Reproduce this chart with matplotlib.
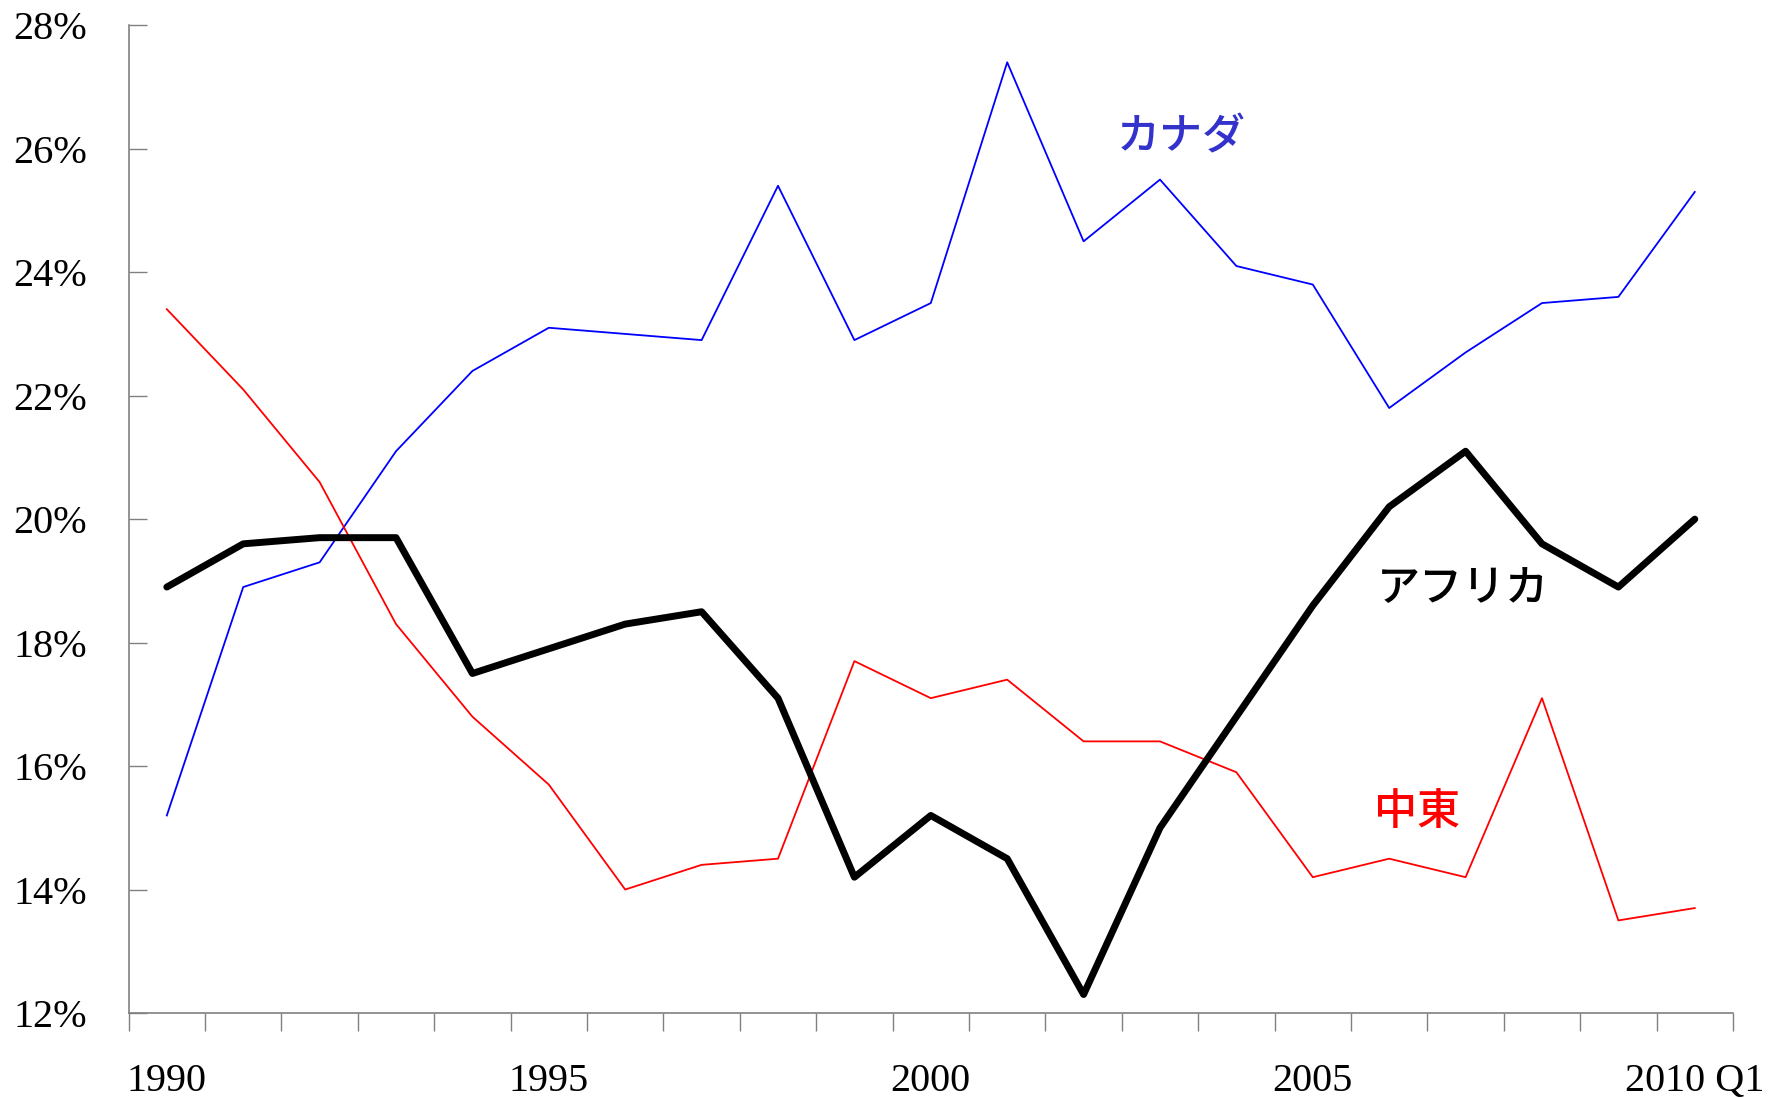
import matplotlib
matplotlib.use("Agg")
import matplotlib.pyplot as plt
import numpy as np

years = [str(y) for y in range(1990, 2010)] + ["2010 Q1"]
tick_labels = ["1990", "1995", "2000", "2005", "2010 Q1"]
tick_positions = [0, 5, 10, 15, 20]

canada = [15.2, 18.9, 19.3, 21.1, 22.4, 23.1, 23.0, 22.9, 25.4, 22.9, 23.5,
          27.4, 24.5, 25.5, 24.1, 23.8, 21.8, 22.7, 23.5, 23.6, 25.3]
mideast = [23.4, 22.1, 20.6, 18.3, 16.8, 15.7, 14.0, 14.4, 14.5, 17.7, 17.1,
           17.4, 16.4, 16.4, 15.9, 14.2, 14.5, 14.2, 17.1, 13.5, 13.7]
africa = [18.9, 19.6, 19.7, 19.7, 17.5, 17.9, 18.3, 18.5, 17.1, 14.2, 15.2,
          14.5, 12.3, 15.0, 16.8, 18.6, 20.2, 21.1, 19.6, 18.9, 20.0]

fig = plt.figure(figsize=(17.84, 10.98), dpi=100)
ax = fig.add_axes([0.0721, 0.0774, 0.8993, 0.8996])

x = np.arange(len(years))
ax.plot(x, canada, color="#0000FF", lw=1.3)
ax.plot(x, mideast, color="#FF0000", lw=1.3)
ax.plot(x, africa, color="black", lw=5, solid_capstyle="round", solid_joinstyle="round")

ax.set_xlim(-0.5, len(years) - 0.5)
ax.set_ylim(12, 28)
ax.set_yticks(np.arange(12, 29, 2))
ax.set_yticklabels([f"{v}%" for v in range(12, 29, 2)], fontfamily="Liberation Serif", fontsize=29)

ax.set_xticks(np.arange(-0.5, len(years)), minor=False)
ax.set_xticklabels([])
ax.set_xticks(tick_positions, minor=True)
ax.set_xticklabels(tick_labels, minor=True, fontfamily="Liberation Serif", fontsize=29)
ax.tick_params(axis="x", which="major", direction="out", length=13, width=1, color="#808080")
ax.tick_params(axis="x", which="minor", length=0, pad=36)
ax.tick_params(axis="y", direction="in", length=13, width=1, color="#808080", pad=30)

for s in ["top", "right"]:
    ax.spines[s].set_visible(False)
for s in ["left", "bottom"]:
    ax.spines[s].set_color("#808080")
    ax.spines[s].set_linewidth(1.2)

jp = ["Noto Sans CJK JP", "DejaVu Sans"]
ax.text(13.28, 26.19, "カナダ", color="#3333CC", fontsize=31, family=jp, weight="medium", ha="center", va="center")
ax.text(16.96, 18.88, "アフリカ", color="black", fontsize=31, family=jp, weight="medium", ha="center", va="center")
ax.text(16.36, 15.26, "中東", color="#FF0000", fontsize=31, family=jp, weight="medium", ha="center", va="center")

fig.savefig("out.png", dpi=100)
